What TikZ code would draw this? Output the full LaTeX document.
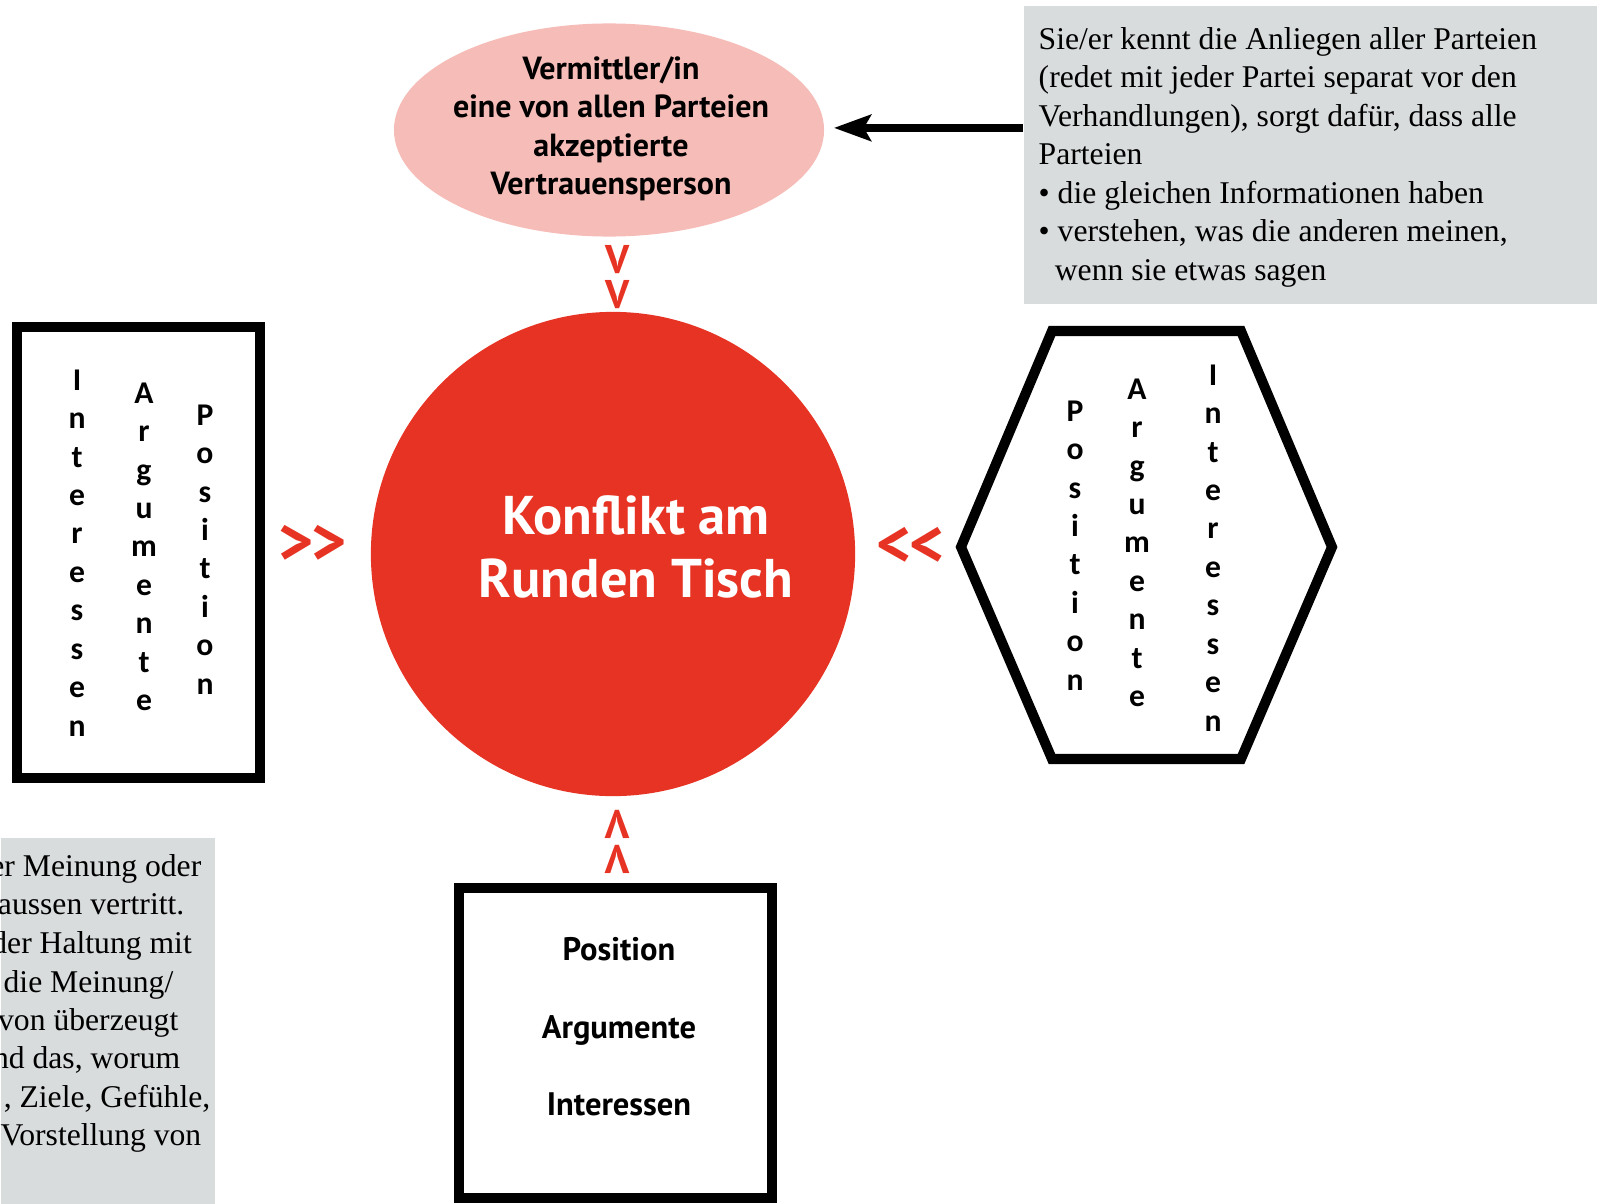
\documentclass[tikz,border=0pt]{standalone}
\usepackage{fontspec}
\setmainfont{Liberation Serif}
\newfontfamily\ptsans{PT Sans}
\newfontfamily\carlito{Carlito}
\usetikzlibrary{arrows.meta, shapes.geometric, positioning}

\definecolor{konfliktrot}{RGB}{230,51,35}
\definecolor{vermittlerrosa}{RGB}{246,188,183}
\definecolor{infograu}{RGB}{217,220,221}

\begin{document}
\begin{tikzpicture}[x=0.01cm, y=-0.01cm,
    rahmen/.style={draw, line width=2.85pt, line join=miter},
    infobox/.style={fill=infograu, inner sep=0pt, anchor=north west},
    infotext/.style={inner sep=0pt, font=\fontsize{9}{10.95}\selectfont},
    spalte/.style={inner sep=0pt, anchor=north, align=center, font=\carlito\bfseries\fontsize{9}{10.93}\selectfont},
    fett/.style={inner sep=0pt, align=center, font=\ptsans\bfseries\fontsize{9.1}{10.93}\selectfont},
    zeichen/.style={inner sep=0pt, text=konfliktrot, font=\ptsans\bfseries\fontsize{11.4}{12}\selectfont},
    seitenzeichen/.style={zeichen, font=\ptsans\bfseries\fontsize{19}{20}\selectfont}]
    \useasboundingbox (0,0) rectangle (1597,1203);
    \clip (0,0) rectangle (1597,1203);

    % Vermittler/in oben
    \node[ellipse, fill=vermittlerrosa, minimum width=122.3pt, minimum height=60.6pt, inner sep=0pt] (vermittler) at (609,130) {};
    \node[fett] (vermittlertext) at (611,129) {Vermittler/in\\eine von allen Parteien\\akzeptierte\\Vertrauensperson};

    % Erklaerung rechts oben
    \node[infobox, minimum width=163.3pt, minimum height=84.9pt] (info) at (1023,5) {};
    \node[infotext, anchor=north west, align=left] (infotext) at (1038,26.5) {Sie/er kennt die Anliegen aller Parteien\\(redet mit jeder Partei separat vor den\\Verhandlungen), sorgt dafür, dass alle\\Parteien\\• die gleichen Informationen haben\\• verstehen, was die anderen meinen,\\\hspace*{4.6pt}wenn sie etwas sagen};
    \draw[line width=2.3pt, -{Stealth[length=10.5pt, width=7.4pt, inset=2pt]}, shorten >=2.6pt] ([yshift=0.6pt]info.west |- vermittler.east) -- ([yshift=0.6pt]vermittler.east);

    % Konflikt in der Mitte
    \node[circle, fill=konfliktrot, minimum size=137.7pt, inner sep=0pt] (konflikt) at (613,554) {};
    \node[fett, text=white, font=\ptsans\bfseries\fontsize{15.5}{17.9}\selectfont] (konflikttext) at (636,547) {Konflikt am\\Runden Tisch};

    % Zeichen rund um den Tisch
    \node[zeichen] (oben1) at (618,260) {V};
    \node[zeichen] (oben2) at (618,295) {V};
    \node[zeichen, rotate=180] (unten1) at (617,824) {V};
    \node[zeichen, rotate=180] (unten2) at (617,859) {V};
    \node[seitenzeichen] (links1) at (296,544.5) {>};
    \node[seitenzeichen] (links2) at (329,544.5) {>};
    \node[seitenzeichen] (rechts1) at (894,546.5) {<};
    \node[seitenzeichen] (rechts2) at (927,546.5) {<};

    % Partei links
    \node[rahmen, minimum width=69.1pt, minimum height=128.3pt, inner sep=0pt] (linksrahmen) at (138.5,552.5) {};
    \node[spalte] (linksint) at (77,369) {I\\n\\t\\e\\r\\e\\s\\s\\e\\n};
    \node[spalte] (linksarg) at (144,382) {A\\r\\g\\u\\m\\e\\n\\t\\e};
    \node[spalte] (linkspos) at (205,404) {P\\o\\s\\i\\t\\i\\o\\n};

    % Partei rechts
    \draw[rahmen] (961,547) -- (1052,331) -- (1241,331) -- (1332,547) -- (1241,759) -- (1052,759) -- cycle;
    \node[spalte] (rechtspos) at (1075,400) {P\\o\\s\\i\\t\\i\\o\\n};
    \node[spalte] (rechtsarg) at (1137,378) {A\\r\\g\\u\\m\\e\\n\\t\\e};
    \node[spalte] (rechtsint) at (1213,364) {I\\n\\t\\e\\r\\e\\s\\s\\e\\n};

    % Partei unten
    \node[rahmen, minimum width=89.1pt, minimum height=88.2pt, inner sep=0pt] (untenrahmen) at (615.5,1043) {};
    \node[fett, font=\ptsans\bfseries\fontsize{9.25}{22}\selectfont] (untentext) at (619,1027) {Position\\Argumente\\Interessen};

    % Erklaerung links unten (angeschnitten)
    \node[infobox, minimum width=60.9pt, minimum height=110pt] (meinung) at (0,837) {};
    \node[infotext, anchor=base east] (meinung1) at (202,876.5) {er Meinung oder};
    \node[infotext, anchor=base east] (meinung2) at (185,914.5) {aussen vertritt.};
    \node[infotext, anchor=base east] (meinung3) at (192.5,953.5) {der Haltung mit};
    \node[infotext, anchor=base east] (meinung4) at (174,992.5) {die Meinung/};
    \node[infotext, anchor=base east] (meinung5) at (179,1030.5) {von überzeugt};
    \node[infotext, anchor=base east] (meinung6) at (181,1068.5) {nd das, worum};
    \node[infotext, anchor=base east] (meinung7) at (211,1107.5) {, Ziele, Gefühle,};
    \node[infotext, anchor=base east] (meinung8) at (202,1145.5) {Vorstellung von};
\end{tikzpicture}
\end{document}
